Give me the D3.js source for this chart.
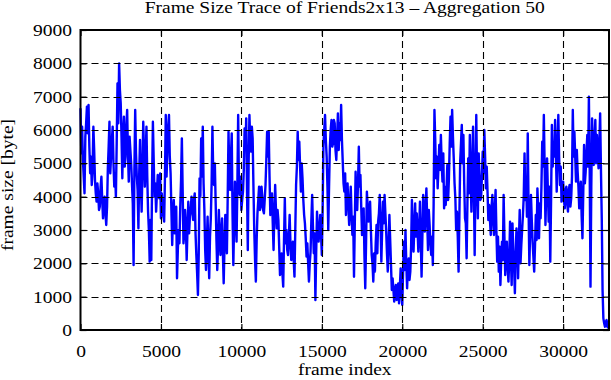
<!DOCTYPE html>
<html>
<head>
<meta charset="utf-8">
<script src="https://cdn.jsdelivr.net/npm/d3@7"></script>
<style>
  html, body { margin: 0; padding: 0; background: #ffffff; }
  svg { display: block; }
</style>
</head>
<body>
<div id="chart"></div>
<script>
// ---- data ----
const chartTitle = "Frame Size Trace of Friends2x13 \u2013 Aggregation 50";
const xLabel = "frame index";
const yLabel = "frame size [byte]";
const xTicks = [0, 5000, 10000, 15000, 20000, 25000, 30000];
const yTicks = [0, 1000, 2000, 3000, 4000, 5000, 6000, 7000, 8000, 9000];
const xMax = 32850;
const frameStep = 50; // aggregation: one value per 50 frames
const frameSizes = [
  6650,5300,6100,5100,4600,4100,5800,6200,6700,5900,6750,5500,4700,5200,4350,4800,6100,5400,4500,4100,
  3850,4400,4100,3600,3700,4300,4600,3900,3350,3900,4000,3500,3150,3700,4850,5500,6250,4700,5200,5700,
  6100,5000,4300,4700,4000,5600,7400,6200,8000,7200,6800,5800,4550,5900,6400,4900,5200,6100,6600,5300,
  4450,5800,5400,5000,4400,3800,1950,4800,6600,5300,4600,4200,3050,4700,5700,4400,3550,4800,6250,5300,
  4300,5200,6100,4600,3550,3000,2050,3300,2100,4500,6250,5100,4000,4400,3550,4100,4650,4300,3950,4700,
  3350,4100,3750,3450,3250,4600,6450,4600,5400,6100,6450,5200,4700,3600,2550,3500,3900,2900,3100,3700,
  1550,2400,3000,2600,3700,4500,5750,4200,2600,2900,3600,3100,2100,3000,3850,2900,3400,3600,4000,3600,
  3300,3900,4100,2900,2250,1700,1050,2300,4550,4000,5750,4600,6100,4400,3600,2400,1800,2600,3400,2300,
  1550,2800,3350,4400,6100,4700,4350,5000,3850,2700,1800,2500,3600,2900,2250,2900,3350,2300,1400,2500,
  3450,2900,2300,4000,5950,4700,4200,5200,5900,3500,1950,3200,4450,3400,2650,4300,6450,4300,4050,4600,
  3600,3900,4150,4800,6050,5400,6350,4200,2400,5000,6450,5700,5350,6100,5750,4300,3000,2100,1450,2700,
  3500,3900,4300,3600,3700,4300,4000,3600,3500,3900,4350,5100,5950,5200,5950,4600,3450,3900,4100,3200,
  2400,3500,4350,3600,3050,3600,3300,2500,1650,2000,2300,1700,1300,2700,3950,2600,3000,2400,2250,2800,
  3450,2600,2100,2300,2650,2100,1600,3000,4350,4900,5950,5100,5650,4900,4150,5000,4550,3900,3450,3200,
  2750,2200,2600,2000,1450,2000,2350,3300,4050,3100,2300,2900,900,2300,3550,3000,2650,3000,3450,2900,
  2250,3600,5550,6000,6450,5700,5200,4300,3000,4300,5500,6000,6300,5500,5600,6300,6200,5400,5100,5800,
  6500,5400,6200,5700,6750,5700,5050,4400,4150,4700,3450,4200,4400,3700,3150,3800,4300,3400,2850,3400,
  1600,3200,4750,3800,3600,4400,5500,4300,4650,3700,2850,3400,3650,2200,1250,2600,4150,3700,3250,3500,
  3850,3000,2250,2000,1450,2300,1750,2600,3150,2300,3250,3500,4050,3200,2050,3000,3850,3200,4050,3500,
  2950,2300,1750,2600,3450,2700,1950,1200,1550,1200,850,1200,1350,900,1150,1400,800,1300,1850,1100,
  750,1700,2650,1800,3000,2000,1250,1900,2150,1500,1750,2500,3900,3000,2350,3100,3800,2800,3500,3000,
  2350,3000,3850,2700,1600,2800,4050,3500,2950,3700,4250,3300,2400,3600,3150,2600,2250,2800,1950,3800,
  6600,5700,4550,5200,4250,4900,5550,4800,5850,5000,4450,5300,3650,4300,3750,4200,4950,3900,4550,5600,
  6400,5500,6600,5800,5150,4400,3950,3000,3550,2800,1750,3400,5050,5600,6150,5000,5850,4400,3350,3200,
  2150,3800,5150,4100,5850,4500,3550,4900,6100,4300,2250,4400,6450,4600,3350,5300,4650,3900,3950,4600,
  5350,4700,6000,5200,4250,4900,4150,3300,3750,3300,2850,3700,4050,3300,2850,3600,4200,3000,2050,2800,
  1750,2500,1350,2100,2650,2100,4050,2800,1650,2300,2650,1900,1450,2100,3250,2200,1350,3200,2400,1900,
  1100,2300,3050,2600,1550,2700,3600,2000,2550,3000,3450,4000,5300,3900,4550,3400,5900,3700,1950,3000,
  4050,3300,2650,2200,1750,2500,3450,2700,4250,3600,2750,3800,3350,4300,5650,4900,6450,4900,3150,4200,
  5150,4200,3250,4300,2050,3900,6150,4900,5650,5200,6300,5300,4150,5400,6450,5200,4350,4900,3850,4100,
  4450,3900,3650,4200,4300,3800,3550,4200,4350,3700,3950,4600,6600,5200,5950,5200,4450,5400,4750,4300,
  3650,4200,4450,3400,2750,4100,5550,4400,4750,5300,5850,4900,7000,4800,1300,4300,6350,5400,4950,5700,
  6300,5000,5850,5400,4850,5600,6500,4800,3350,1200,350,200,100,250,300,100,50
];

// ---- layout ----
const W = 611, H = 380;
const plotL = 80.5, plotR = 609, plotT = 30, plotB = 330;
const sx = 1.22; // horizontal stretch of the glyphs in the reference
const fontFamily = "'Liberation Serif', 'DejaVu Serif', 'Times New Roman', serif";

const svg = d3.select("#chart").append("svg")
  .attr("width", W).attr("height", H);

const x = d3.scaleLinear().domain([0, xMax]).range([plotL, plotR]);
const y = d3.scaleLinear().domain([0, 9000]).range([plotB, plotT]);

const data = frameSizes.map((v, i) => ({ f: i * frameStep, v: v }));

// data line
const line = d3.line().x(d => x(d.f)).y(d => y(d.v));
svg.append("path")
  .datum(data)
  .attr("d", line)
  .attr("fill", "none")
  .attr("stroke", "#0000ff")
  .attr("stroke-width", 2.4)
  .attr("stroke-linejoin", "round");

// grid (dashed, drawn over the data like in the reference)
const grid = svg.append("g").attr("stroke", "#000").attr("stroke-width", 1.1)
  .attr("stroke-dasharray", "7,4");
grid.selectAll("line.gx").data(xTicks.filter(t => t > 0)).enter().append("line")
  .attr("x1", d => Math.round(x(d)) + 0.5).attr("x2", d => Math.round(x(d)) + 0.5)
  .attr("y1", plotT).attr("y2", plotB);
grid.selectAll("line.gy").data(yTicks.filter(t => t > 0 && t < 9000)).enter().append("line")
  .attr("x1", plotL).attr("x2", plotR)
  .attr("y1", d => Math.round(y(d)) + 0.5).attr("y2", d => Math.round(y(d)) + 0.5);

// axes with inward ticks
function styleAxis(g) {
  g.attr("font-family", fontFamily).attr("font-size", 16);
  g.select(".domain").remove();
  g.selectAll(".tick line").attr("stroke", "#000").attr("stroke-width", 1.2);
  g.selectAll("text")
    .attr("font-family", fontFamily)
    .attr("font-size", 16)
    .attr("fill", "#000");
}

const gBottom = svg.append("g").attr("transform", `translate(0,${plotB})`)
  .call(d3.axisBottom(x).tickValues(xTicks).tickSize(-6).tickSizeOuter(0).tickFormat(d3.format("d")))
  .call(styleAxis);
gBottom.selectAll("text").attr("dy", null).attr("y", 27)
  .attr("transform", `scale(${sx},1)`);

const gLeft = svg.append("g").attr("transform", `translate(${plotL},0)`)
  .call(d3.axisLeft(y).tickValues(yTicks).tickSize(-6).tickSizeOuter(0).tickFormat(d3.format("d")))
  .call(styleAxis);
gLeft.selectAll("text").attr("dy", null).attr("y", 5.5).attr("x", -8.5 / sx)
  .attr("transform", `scale(${sx},1)`);

svg.append("g").attr("transform", `translate(0,${plotT})`)
  .call(d3.axisTop(x).tickValues(xTicks).tickSize(-6).tickSizeOuter(0).tickFormat(""))
  .call(styleAxis);
svg.append("g").attr("transform", `translate(${plotR},0)`)
  .call(d3.axisRight(y).tickValues(yTicks).tickSize(-6).tickSizeOuter(0).tickFormat(""))
  .call(styleAxis);

// border
svg.append("rect")
  .attr("x", plotL).attr("y", plotT)
  .attr("width", plotR - plotL).attr("height", plotB - plotT)
  .attr("fill", "none").attr("stroke", "#000").attr("stroke-width", 2);

// titles
function label(txt, tx, ty, rot) {
  svg.append("text")
    .attr("transform", `translate(${tx},${ty})` + (rot ? ` rotate(${rot})` : "") + ` scale(${sx},1)`)
    .attr("text-anchor", "middle")
    .attr("font-family", fontFamily)
    .attr("font-size", 16)
    .attr("fill", "#000")
    .text(txt);
}
label(chartTitle, (plotL + plotR) / 2, 13, 0);
label(xLabel, (plotL + plotR) / 2, 375, 0);
label(yLabel, 13, 185, -90);
</script>
</body>
</html>
